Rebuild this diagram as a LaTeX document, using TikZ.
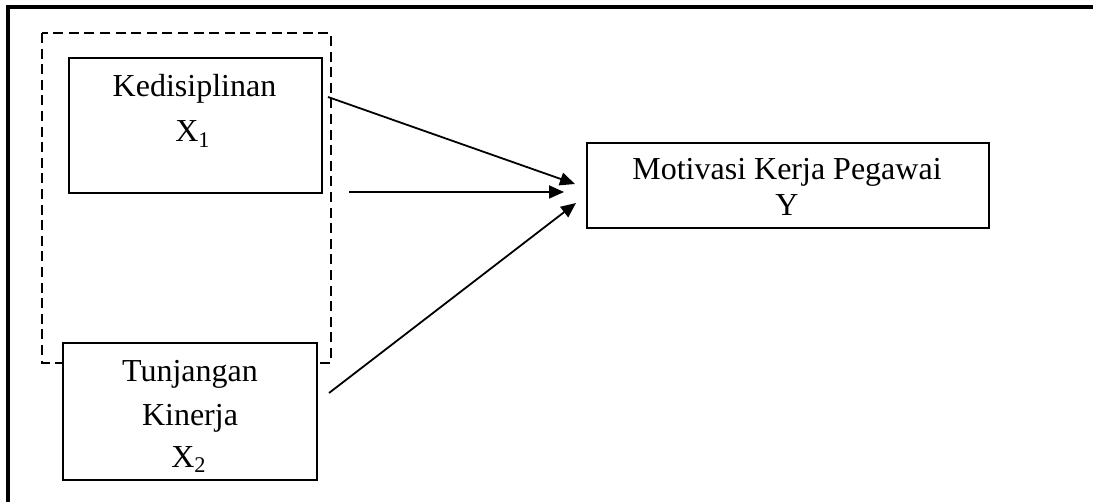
\documentclass[tikz,border=0pt]{standalone}
\usepackage{fontspec}
\setmainfont{Liberation Serif}
\usetikzlibrary{arrows.meta}
\begin{document}
\begin{tikzpicture}[x=0.5pt, y=-0.5pt,
    font=\fontsize{16}{19}\selectfont,
    varbox/.style={draw, line width=1.2pt, fill=white, inner sep=0pt, anchor=north west},
    lbl/.style={inner sep=0pt, anchor=base},
    link/.style={line width=0.9pt, -{Triangle[length=7.5pt, width=6.5pt]}}]
    \useasboundingbox (0,0) rectangle (1093,502);
    % frame (top and left edge only)
    \draw[line width=1.6pt] (8,502) -- (8,7) -- (1093,7);
    % group of the two independent variables
    \draw[line width=1.3pt, dash pattern=on 5pt off 2.8pt] (42,33) rectangle (331,363);
    % boxes
    \node[varbox, minimum width=126.5pt, minimum height=67.5pt] (disiplin) at (68,57) {};
    \node[varbox, minimum width=127pt, minimum height=68.5pt] (tunjangan) at (62,342) {};
    \node[varbox, minimum width=201pt, minimum height=42.5pt] (motivasi) at (586,142) {};
    % labels
    \node[lbl] (disiplin1) at (194.5,97) {Kedisiplinan};
    \node[lbl] (disiplin2) at (193,142) {X\textsubscript{1}};
    \node[lbl] (tunjangan1) at (190,382) {Tunjangan};
    \node[lbl] (tunjangan2) at (190,425) {Kinerja};
    \node[lbl] (tunjangan3) at (189,467) {X\textsubscript{2}};
    \node[lbl] (motivasi1) at (787,180) {Motivasi Kerja Pegawai};
    \node[lbl] (motivasi2) at (787,216) {Y};
    % arrow ends
    \coordinate (a1) at (328,97);
    \coordinate (b1) at (575,184);
    \coordinate (a2) at (349,192);
    \coordinate (b2) at (564,192);
    \coordinate (a3) at (329,393);
    \coordinate (b3) at (576,203);
    \draw[link] (a1) -- (b1);
    \draw[link] (a2) -- (b2);
    \draw[link] (a3) -- (b3);
\end{tikzpicture}
\end{document}
